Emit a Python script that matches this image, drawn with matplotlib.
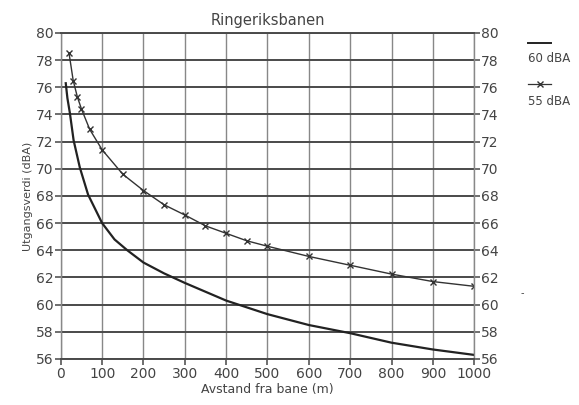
import matplotlib.pyplot as plt

# 60 dBA kurve (heltrukken linje)
avstand_60 = [12, 16, 22, 31, 46, 66, 100, 130, 161, 200, 250, 300, 400, 500, 600, 700, 800, 900, 1000]
niva_60 = [76.3, 75.2, 74.1, 72.1, 70.1, 68.1, 66.0, 64.8, 64.0, 63.1, 62.3, 61.6, 60.3, 59.3, 58.5, 57.9, 57.2, 56.7, 56.3]

# 55 dBA kurve (med kryss)
avstand_55 = [20, 30, 40, 50, 70, 100, 150, 200, 250, 300, 350, 400, 450, 500, 600, 700, 800, 900, 1000]
niva_55 = [78.5, 76.5, 75.3, 74.4, 72.9, 71.4, 69.6, 68.4, 67.35, 66.6, 65.8, 65.25, 64.7, 64.3, 63.55, 62.9, 62.25, 61.7, 61.35]

x_ticks = list(range(0, 1001, 100))
y_ticks = list(range(56, 81, 2))

grey = '#444444'
plt.rcParams['font.family'] = 'DejaVu Sans'

fig = plt.figure(figsize=(5.79, 4.05), dpi=100)
ax = fig.add_axes([0.105, 0.1136, 0.714, 0.805])

ax.plot(avstand_60, niva_60, color='#222222', lw=1.6)
ax.plot(avstand_55, niva_55, color='#333333', lw=1.0, marker='x', ms=5, mew=1.0)

ax.set_xlim(0, 1000)
ax.set_ylim(56, 80)
ax.set_xticks(x_ticks)
ax.set_yticks(y_ticks)
ax.yaxis.grid(True, color='#4a4a4a', lw=1.4)
ax.xaxis.grid(True, color='#888888', lw=1.0)
ax.set_axisbelow(True)
for navn, s in ax.spines.items():
    s.set_color('#4a4a4a' if navn in ('top', 'bottom') else '#888888')
    s.set_linewidth(1.4 if navn in ('top', 'bottom') else 1.0)

ax.tick_params(axis='both', colors='#555555', labelcolor=grey, labelsize=10, length=4, width=1.2)
ax.tick_params(axis='y', right=True, labelright=True, pad=1)
ax.tick_params(axis='x', pad=2)

ax.set_title('Ringeriksbanen', fontsize=10.5, color=grey, pad=6)
ax.set_xlabel('Avstand fra bane (m)', fontsize=9, color=grey, labelpad=1)
ax.set_ylabel('Utgangsverdi (dBA)', fontsize=8, color=grey, labelpad=2)

# forklaring til hoyre
fig.add_artist(plt.Line2D([0.912, 0.952], [0.893, 0.893], color='#222222', lw=1.4))
fig.text(0.912, 0.855, '60 dBA', fontsize=8.5, color=grey, va='center')
fig.add_artist(plt.Line2D([0.912, 0.932, 0.952], [0.793, 0.793, 0.793], color='#333333', lw=0.9,
                          marker='x', markevery=[1], ms=4))
fig.text(0.912, 0.75, '55 dBA', fontsize=8.5, color=grey, va='center')
fig.text(0.899, 0.277, '-', fontsize=7, color=grey, va='center')

fig.savefig('out.png', dpi=100)
